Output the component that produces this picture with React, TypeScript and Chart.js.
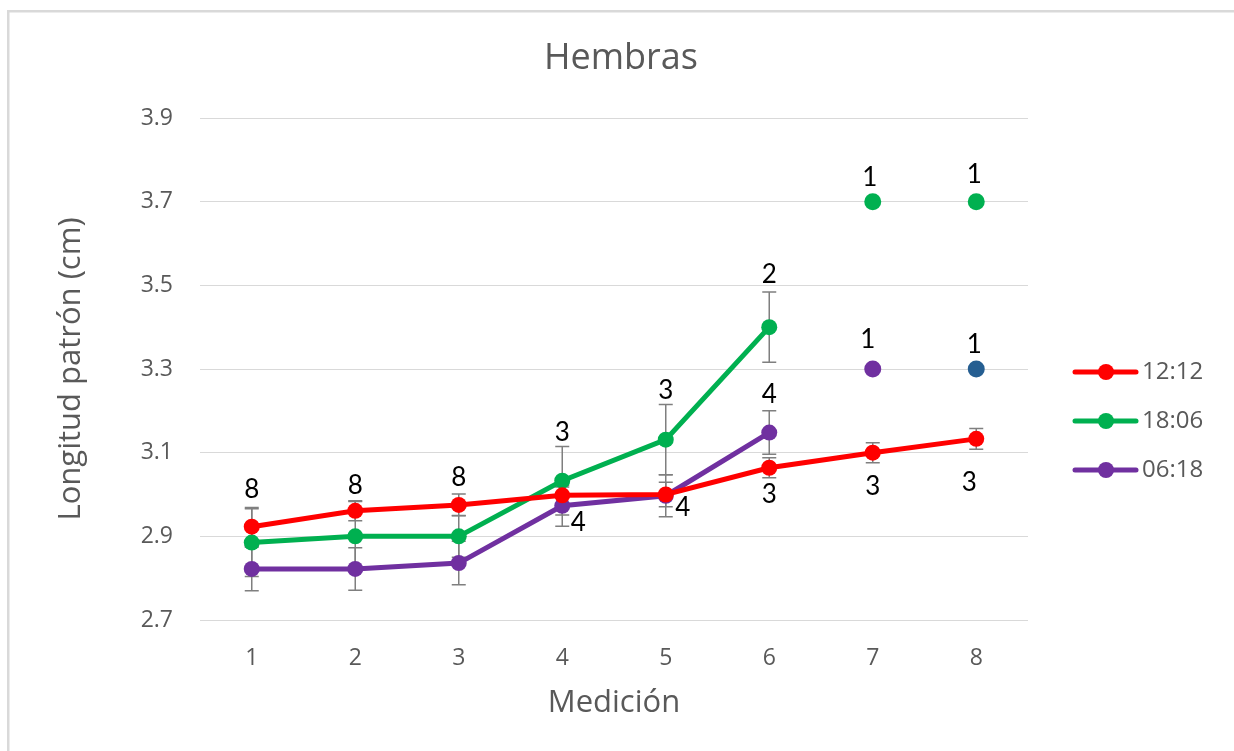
import React, { useEffect, useRef } from 'react';
import { Chart, registerables } from 'chart.js';

Chart.register(...registerables);

// Mediciones (x categories) and y-axis tick values
const mediciones = ['1', '2', '3', '4', '5', '6', '7', '8'];
const yTicks = [2.7, 2.9, 3.1, 3.3, 3.5, 3.7, 3.9];
const titulo = 'Hembras';

// 12:12 photoperiod
const longitud1212 = [2.923, 2.961, 2.975, 2.998, 3.0, 3.064, 3.1, 3.133];
const error1212 = [0.046, 0.024, 0.026, 0.02, 0.029, 0.024, 0.024, 0.025];
const n1212 = [8, 8, 8, null, null, 3, 3, 3];

// 18:06 photoperiod (measurements 7-8 have a single fish)
const longitud1806 = [2.885, 2.9, 2.9, 3.033, 3.131, 3.4, null, null];
const error1806 = [0.081, 0.083, 0.05, 0.082, 0.084, 0.084, null, null];
const longitud1806Unico = [null, null, null, null, null, null, 3.7, 3.7];
const n1806 = [null, null, null, 3, 3, 2, 1, 1];

// 06:18 photoperiod (measurements 7-8 have a single fish)
const longitud0618 = [2.822, 2.822, 2.836, 2.973, 2.997, 3.148, null, null];
const error0618 = [0.052, 0.051, 0.052, 0.049, 0.05, 0.052, null, null];
const longitud0618Unico7 = [null, null, null, null, null, null, 3.3, null];
const longitud0618Unico8 = [null, null, null, null, null, null, null, 3.3];
const n0618 = [null, null, null, 4, 4, 4, 1, 1];

const ROJO = '#ff0000';
const VERDE = '#00b050';
const MORADO = '#7030a0';
const AZUL = '#255e91';
const GRIS_TEXTO = '#595959';

const series = [
  { name: '12:12', color: ROJO, values: longitud1212, errors: error1212, n: n1212, extra: [] as (number | null)[][] },
  { name: '18:06', color: VERDE, values: longitud1806, errors: error1806, n: n1806, extra: [longitud1806Unico] },
  { name: '06:18', color: MORADO, values: longitud0618, errors: error0618, n: n0618, extra: [longitud0618Unico7, longitud0618Unico8] },
];

// Pixel offsets of each sample-size label relative to its point
const labelOffsets: Record<string, ([number, number] | null)[]> = {
  '12:12': [[0, -37], [0, -25], [0, -27], null, null, [0, 27], [0, 34], [-7, 44]],
  '18:06': [null, null, null, [0, -48], [0, -49], [0, -53], [-3, -24], [-2, -27]],
  '06:18': [null, null, null, [16, 17], [17, 12], [0, -38], [-5, -29], [-2, -24]],
};

const valueAt = (s: typeof series[number], i: number): number | null => {
  if (s.values[i] != null) return s.values[i] as number;
  for (const e of s.extra) if (e[i] != null) return e[i] as number;
  return null;
};

// Background, the light frame along the top and left edges, and the title
const framePlugin = {
  id: 'frame',
  beforeDraw(chart: any) {
    const { ctx, width, height } = chart;
    ctx.save();
    ctx.fillStyle = '#ffffff';
    ctx.fillRect(0, 0, width, height);
    ctx.fillStyle = '#d9d9d9';
    ctx.fillRect(7, 10, width - 7, 2.5);
    ctx.fillRect(7, 10, 2.5, height - 10);
    ctx.fillStyle = GRIS_TEXTO;
    ctx.font = '36px "Open Sans"';
    ctx.textAlign = 'center';
    ctx.textBaseline = 'middle';
    ctx.fillText(titulo, width / 2 + 4, 59);
    ctx.restore();
  },
};

const errorBarPlugin = {
  id: 'errorBars',
  beforeDatasetsDraw(chart: any) {
    const { ctx, scales } = chart;
    const xs = scales.x;
    const ys = scales.y;
    ctx.save();
    ctx.strokeStyle = '#7f7f7f';
    ctx.lineWidth = 1.5;
    for (const s of series) {
      s.values.forEach((v, i) => {
        const e = s.errors[i];
        if (v == null || e == null) return;
        const x = xs.getPixelForValue(i);
        const yTop = ys.getPixelForValue(v + e);
        const yBot = ys.getPixelForValue(v - e);
        ctx.beginPath();
        ctx.moveTo(x, yTop);
        ctx.lineTo(x, yBot);
        ctx.moveTo(x - 7, yTop);
        ctx.lineTo(x + 7, yTop);
        ctx.moveTo(x - 7, yBot);
        ctx.lineTo(x + 7, yBot);
        ctx.stroke();
      });
    }
    ctx.restore();
  },
};

const labelPlugin = {
  id: 'sampleLabels',
  afterDatasetsDraw(chart: any) {
    const { ctx, scales } = chart;
    ctx.save();
    ctx.fillStyle = '#000000';
    ctx.font = '26px Lato';
    ctx.textAlign = 'center';
    ctx.textBaseline = 'middle';
    for (const s of series) {
      s.n.forEach((n, i) => {
        const v = valueAt(s, i);
        const off = labelOffsets[s.name][i];
        if (n == null || v == null || !off) return;
        const x = scales.x.getPixelForValue(i) + off[0];
        const y = scales.y.getPixelForValue(v) + off[1];
        ctx.fillText(String(n), x, y);
      });
    }
    ctx.restore();
  },
};

const legendPlugin = {
  id: 'sideLegend',
  afterDraw(chart: any) {
    const { ctx } = chart;
    ctx.save();
    ctx.font = '24px "Open Sans"';
    ctx.textAlign = 'left';
    ctx.textBaseline = 'middle';
    series.forEach((s, k) => {
      const y = 372 + k * 49;
      ctx.strokeStyle = s.color;
      ctx.lineWidth = 5;
      ctx.lineCap = 'round';
      ctx.beginPath();
      ctx.moveTo(1075, y);
      ctx.lineTo(1136, y);
      ctx.stroke();
      ctx.fillStyle = s.color;
      ctx.beginPath();
      ctx.arc(1106, y, 8, 0, Math.PI * 2);
      ctx.fill();
      ctx.fillStyle = GRIS_TEXTO;
      ctx.fillText(s.name, 1142, y);
    });
    ctx.restore();
  },
};

function lineDataset(label: string, data: (number | null)[], color: string) {
  return {
    label,
    data,
    borderColor: color,
    backgroundColor: color,
    borderWidth: 5,
    pointRadius: 8,
    pointBorderWidth: 0,
    pointBackgroundColor: color,
    pointHoverRadius: 8,
    spanGaps: false,
    tension: 0,
  };
}

function pointDataset(label: string, data: (number | null)[], color: string) {
  return {
    label,
    data,
    showLine: false,
    borderColor: color,
    backgroundColor: color,
    pointRadius: 8.5,
    pointBorderWidth: 0,
    pointBackgroundColor: color,
    pointHoverRadius: 8.5,
  };
}

export default function App() {
  const canvasRef = useRef<HTMLCanvasElement | null>(null);

  useEffect(() => {
    if (!canvasRef.current) return;
    const chart = new Chart(canvasRef.current, {
      type: 'line',
      data: {
        labels: mediciones,
        datasets: [
          lineDataset('12:12', longitud1212, ROJO),
          lineDataset('18:06', longitud1806, VERDE),
          lineDataset('06:18', longitud0618, MORADO),
          pointDataset('18:06 n=1', longitud1806Unico, VERDE),
          pointDataset('06:18 n=1 (7)', longitud0618Unico7, MORADO),
          pointDataset('06:18 n=1 (8)', longitud0618Unico8, AZUL),
        ] as any,
      },
      options: {
        animation: false,
        responsive: false,
        devicePixelRatio: 1,
        layout: { padding: { left: 0, right: 206, top: 118, bottom: 0 } },
        plugins: {
          legend: { display: false },
          tooltip: { enabled: false },
          title: { display: false },
        },
        scales: {
          x: {
            type: 'category',
            offset: true,
            grid: { display: false, drawTicks: false },
            border: { display: false },
            ticks: {
              color: GRIS_TEXTO,
              padding: 25,
              font: { family: 'Open Sans', size: 23 },
            },
            title: {
              display: true,
              text: 'Medición',
              color: GRIS_TEXTO,
              font: { family: 'Open Sans', size: 31, lineHeight: 1.2 },
              padding: { top: 0, bottom: 29 },
            },
            afterFit(scale: any) {
              scale.height = 131;
            },
          },
          y: {
            min: 2.7,
            max: 3.9,
            grid: { color: '#d9d9d9', lineWidth: 1, drawTicks: false },
            border: { display: false },
            afterBuildTicks(scale: any) {
              scale.ticks = yTicks.map((v) => ({ value: v }));
            },
            ticks: {
              color: GRIS_TEXTO,
              padding: 27,
              font: { family: 'Open Sans', size: 23 },
              callback: (v: any) => Number(v).toFixed(1),
            },
            title: {
              display: true,
              text: 'Longitud patrón (cm)',
              color: GRIS_TEXTO,
              font: { family: 'Open Sans', size: 31, lineHeight: 1.2 },
              padding: { top: 53, bottom: 0 },
            },
            afterFit(scale: any) {
              scale.width = 200;
            },
          },
        },
      } as any,
      plugins: [framePlugin, errorBarPlugin, labelPlugin, legendPlugin],
    });
    return () => chart.destroy();
  }, []);

  return (
    <div style={{ position: 'fixed', left: 0, top: 0, width: 1234, height: 751, background: '#fff' }}>
      <canvas ref={canvasRef} width={1234} height={751} style={{ display: 'block' }} />
    </div>
  );
}
